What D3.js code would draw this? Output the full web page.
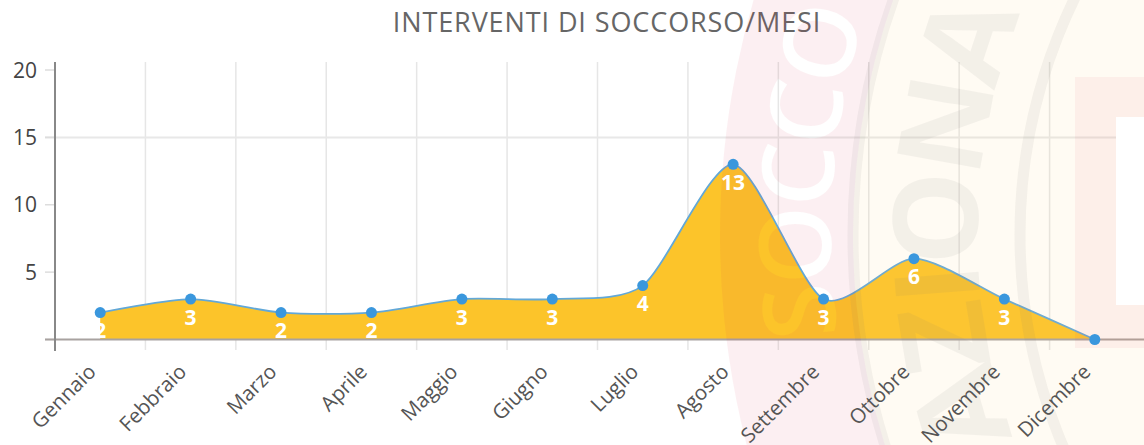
<!DOCTYPE html>
<html><head><meta charset="utf-8">
<script src="https://cdn.jsdelivr.net/npm/d3@7"></script>
<style>body{margin:0;background:#fff}svg{display:block}</style>
</head><body>
<svg id="c" width="1144" height="445"></svg>
<script>
const months = ["Gennaio","Febbraio","Marzo","Aprile","Maggio","Giugno","Luglio","Agosto","Settembre","Ottobre","Novembre","Dicembre"];
const values = [2,3,2,2,3,3,4,13,3,6,3,0];
const yTicks = [0,5,10,15,20];
const title = "INTERVENTI DI SOCCORSO/MESI";
const wmOuter = "SOCCORSO";
const wmInner = "NAZIONALE";

const svg = d3.select("#c");
const W = 1144, H = 445;
const FONT = "Open Sans, sans-serif";
const x = d3.scaleBand().domain(months).range([55, 1140]);
const xc = m => x(m) + x.bandwidth()/2;
const y = d3.scaleLinear().domain([0,20]).range([339.5, 70]);

// title
svg.append("text").attr("x",607).attr("y",32).attr("text-anchor","middle")
  .attr("font-family",FONT).attr("font-size",27).attr("letter-spacing",0.9).attr("fill","#666")
  .text(title);

// vertical gridlines at band boundaries
svg.append("g").selectAll("line").data(months.slice(1)).join("line")
  .attr("x1", d=>x(d)).attr("x2", d=>x(d)).attr("y1",62).attr("y2",350)
  .attr("stroke","#e6e6e6").attr("stroke-width",1.5);

// horizontal gridline at 15
svg.append("line").attr("x1",45).attr("x2",W).attr("y1",y(15)).attr("y2",y(15))
  .attr("stroke","#e8e8e8").attr("stroke-width",2);

// y ticks
svg.append("g").selectAll("line").data(yTicks).join("line")
  .attr("x1",45).attr("x2",55).attr("y1",d=>y(d)).attr("y2",d=>y(d))
  .attr("stroke","#dddddd").attr("stroke-width",1.5);

// area + line
const curve = d3.curveCardinal.tension(0.25);
const area = d3.area().x((d,i)=>xc(months[i])).y0(y(0)).y1(d=>y(d)).curve(curve);
const line = d3.line().x((d,i)=>xc(months[i])).y(d=>y(d)).curve(curve);
svg.append("path").attr("d", area(values)).attr("fill","#fcc42a");

// x axis baseline
svg.append("line").attr("x1",45).attr("x2",W).attr("y1",y(0)).attr("y2",y(0))
  .attr("stroke","#a8a2a0").attr("stroke-width",2);
// y axis line
svg.append("line").attr("x1",55).attr("x2",55).attr("y1",62).attr("y2",351)
  .attr("stroke","#888").attr("stroke-width",2);

svg.append("path").attr("d", line(values)).attr("fill","none").attr("stroke","#62a8d8").attr("stroke-width",1.8);

// ---------- watermark overlay (faint logo) ----------
const cx = 1560, cy = 235;
const rOut = 840, rRing = 707, rIn = 540;
const defs = svg.append("defs");
const wm = svg.append("g").attr("pointer-events","none");

function placeLetters(g, txt, r, fs, anchorIdx, anchorY, fill, weight) {
  const tmp = svg.append("g");
  const adv = Array.from(txt).map(ch => {
    const t = tmp.append("text").attr("font-family",FONT).attr("font-weight",weight).attr("font-size",fs).text(ch);
    return t.node().getComputedTextLength();
  });
  tmp.remove();
  const centers = [];
  let s = 0;
  adv.forEach((a,i)=>{ centers.push(s + a/2); s += a; });
  const phi0 = Math.asin((anchorY - cy)/r);
  const theta0 = Math.PI - phi0;
  Array.from(txt).forEach((ch,i)=>{
    const th = theta0 + (centers[i] - centers[anchorIdx]) / r;
    const px = cx + r*Math.cos(th), py = cy + r*Math.sin(th);
    if (py < -10 || py > H + 10) return; // fully outside the picture
    g.append("text").attr("transform",`translate(${px},${py}) rotate(${th*180/Math.PI + 90})`)
      .attr("text-anchor","middle").attr("dominant-baseline","central")
      .attr("font-family",FONT).attr("font-weight",weight).attr("font-size",fs)
      .attr("fill",fill).text(ch);
  });
}

const mask = defs.append("mask").attr("id","ringMask").attr("maskUnits","userSpaceOnUse")
  .attr("x",0).attr("y",0).attr("width",W).attr("height",H);
mask.append("rect").attr("width",W).attr("height",H).attr("fill","#fff");
placeLetters(mask.append("g"), wmOuter, 768, 100, 0, 312, "#000", 600);

const ringPath = `M${cx-rOut},${cy} a${rOut},${rOut} 0 1 0 ${2*rOut},0 a${rOut},${rOut} 0 1 0 ${-2*rOut},0 Z ` +
                 `M${cx-rRing},${cy} a${rRing},${rRing} 0 1 0 ${2*rRing},0 a${rRing},${rRing} 0 1 0 ${-2*rRing},0 Z`;
wm.append("path").attr("d",ringPath).attr("fill-rule","evenodd")
  .attr("fill","rgb(215,50,80)").attr("opacity",0.07).attr("mask","url(#ringMask)");
wm.append("circle").attr("cx",cx).attr("cy",cy).attr("r",rRing)
  .attr("fill","rgb(255,215,125)").attr("opacity",0.09);
wm.append("circle").attr("cx",cx).attr("cy",cy).attr("r",rRing).attr("fill","none")
  .attr("stroke","rgb(120,120,120)").attr("stroke-width",11).attr("opacity",0.08);
wm.append("circle").attr("cx",cx).attr("cy",cy).attr("r",rIn).attr("fill","none")
  .attr("stroke","rgb(120,120,120)").attr("stroke-width",11).attr("opacity",0.08);
const inner = wm.append("g").attr("opacity",0.08);
placeLetters(inner, wmInner, 628, 118, 4, 218, "rgb(120,120,120)", 700);
wm.append("rect").attr("x",1075).attr("y",77).attr("width",W-1075).attr("height",271)
  .attr("fill","rgb(215,50,80)").attr("opacity",0.06);
wm.append("rect").attr("x",1116).attr("y",117).attr("width",W-1116).attr("height",188)
  .attr("fill","#fff");

// points
svg.append("g").selectAll("circle").data(values).join("circle")
  .attr("cx",(d,i)=>xc(months[i])).attr("cy",d=>y(d)).attr("r",5.5).attr("fill","#3a97dd");

// data labels
svg.append("g").selectAll("text").data(values.slice(0,-1)).join("text")
  .attr("x",(d,i)=>xc(months[i])).attr("y",d=>y(d)+25.5).attr("text-anchor","middle")
  .attr("font-family",FONT).attr("font-weight","bold").attr("font-size",21).attr("fill","#fff")
  .text(d=>d);

// y labels
svg.append("g").selectAll("text").data(yTicks.filter(d=>d>0)).join("text")
  .attr("x",37).attr("y",d=>y(d)).attr("dy","0.36em").attr("text-anchor","end")
  .attr("font-family",FONT).attr("font-size",21).attr("fill","#444")
  .text(d=>d);

// x labels
svg.append("g").selectAll("text").data(months).join("text")
  .attr("transform", d=>`translate(${xc(d)-3},${373}) rotate(-45)`)
  .attr("text-anchor","end")
  .attr("font-family",FONT).attr("font-size",20.5).attr("fill","#555")
  .text(d=>d);
</script>
</body></html>
